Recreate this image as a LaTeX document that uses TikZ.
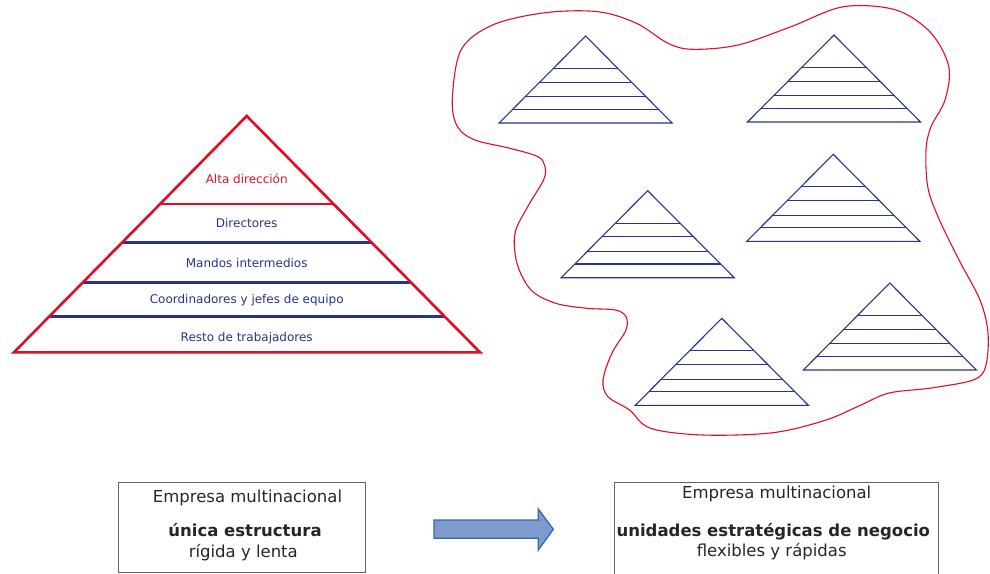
\documentclass[tikz,border=0pt]{standalone}
\usepackage{fontspec}
\setmainfont{DejaVu Sans}
\usetikzlibrary{calc}
\definecolor{pred}{RGB}{226,12,36}
\definecolor{pblue}{RGB}{40,52,140}
\definecolor{tblue}{RGB}{40,50,140}
\definecolor{afill}{RGB}{128,154,206}
\definecolor{aedge}{RGB}{46,106,180}
\definecolor{bgray}{RGB}{100,100,100}
\newcommand{\minipyr}[3]{%
  \coordinate (#1t) at (#2,#3);
  \coordinate (#1l) at ($(#2,#3)+(-86.5,87)$);
  \coordinate (#1r) at ($(#2,#3)+(86.5,87)$);
  \foreach \f in {0.372,0.53,0.70,0.842}{
    \draw[minipen] ($(#1t)!\f!(#1l)$) -- ($(#1t)!\f!(#1r)$);
  }
  \draw[minipen] (#1t) -- (#1l) -- (#1r) -- cycle;
}
\begin{document}
\begin{tikzpicture}[x=1pt,y=-1pt,
  minipen/.style={draw=pblue,line width=1.1pt,line join=miter},
  lyrlabel/.style={anchor=base,font=\fontsize{12}{14}\selectfont,text=tblue,inner sep=0pt},
  boxtext/.style={anchor=base,font=\fontsize{16.5}{19}\selectfont,text=black!85,inner sep=0pt},
  infobox/.style={draw=bgray,line width=0.9pt}]
\useasboundingbox (0,0) rectangle (990,573);
\clip (0,0) rectangle (990,573);
% big pyramid
\coordinate (A) at (246.7,116);
\coordinate (L) at (14,352.3);
\coordinate (R) at (480,352.3);
\foreach \f in {0.5345,0.7038,0.8493}{
  \draw[pblue,line width=2.5pt] ($(A)!\f!(L)$) -- ($(A)!\f!(R)$);
}
\draw[pred,line width=2.6pt] ($(A)!0.3724!(L)$) -- ($(A)!0.3724!(R)$);
\draw[pred,line width=2.6pt,line join=miter] (A) -- (L) -- (R) -- cycle;
\node[lyrlabel,text=pred] (alta) at (246.7,183.4) {Alta dirección};
\node[lyrlabel] (dir) at (246.7,227.7) {Directores};
\node[lyrlabel] (mandos) at (246.7,267.7) {Mandos intermedios};
\node[lyrlabel] (coord) at (246.7,303) {Coordinadores y jefes de equipo};
\node[lyrlabel] (resto) at (246.7,341) {Resto de trabajadores};
% blob
\draw[pred,line width=1.1pt] plot[smooth cycle,tension=0.55] coordinates{
 (452.3,100) (461,50) (492.6,25) (545,12.7) (598,11.7) (636.5,23.3) (668,43.3)
 (692.6,49.3) (738,45) (791,26.7) (843.5,6.7) (896,10) (931,33) (948.8,66.7)
 (945,100) (931,126.7) (926,150) (927.7,186.7) (938,216.7) (959,260) (980,300)
 (988,333) (985.6,366.7) (973,380) (931,388) (889,393) (861,405) (826,420)
 (773,432.7) (703,435) (650.5,428.3) (629.5,410) (608,396.7) (603,380) (612,353)
 (626,330) (626,316.7) (615.4,310) (587,308.3) (555.8,303.3) (531,290) (517,263.3)
 (515,233.3) (527.7,206.7) (543.5,180) (545,166.7) (538,156.7) (510,148.3)
 (475,140) (457.5,126.7)};
% small pyramids
\minipyr{pa}{585.6}{36}
\minipyr{pb}{834}{35}
\minipyr{pc}{647.7}{190.7}
\minipyr{pd}{833.3}{154.3}
\minipyr{pe}{721.8}{318.3}
\minipyr{pf}{889.8}{283}
% boxes
\node[infobox,minimum width=246.7pt,minimum height=90pt,anchor=north west,inner sep=0pt] (box1) at (118.3,481.7) {};
\node[infobox,minimum width=324.3pt,minimum height=100pt,anchor=north west,inner sep=0pt] (box2) at (614,481.7) {};
\node[boxtext] (b1a) at (247.5,502.7) {Empresa multinacional};
\node[boxtext,font=\fontsize{16.5}{19}\selectfont\bfseries] (b1b) at (245,536.7) {única estructura};
\node[boxtext] (b1c) at (243.3,557.3) {rígida y lenta};
\node[boxtext] (b2a) at (776.7,498.3) {Empresa multinacional};
\node[boxtext,font=\fontsize{16.5}{19}\selectfont\bfseries] (b2b) at (773.3,536.5) {unidades estratégicas de negocio};
\node[boxtext] (b2c) at (771.7,556.5) {flexibles y rápidas};
% arrow
\draw[draw=aedge,fill=afill,line width=1.3pt,line join=miter]
  (434,520) -- (538.3,520) -- (538.3,509) -- (553.3,529.3) -- (538.3,550) -- (538.3,538.3) -- (434,538.3) -- cycle;
\end{tikzpicture}
\end{document}
